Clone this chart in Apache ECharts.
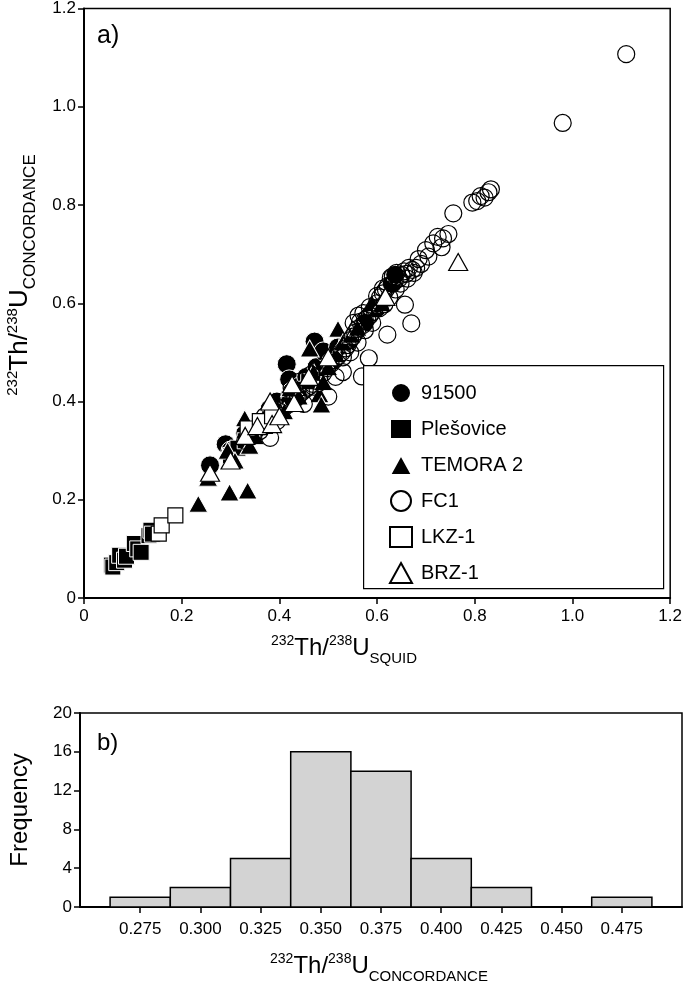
<!DOCTYPE html>
<html><head><meta charset="utf-8">
<script src="https://cdn.jsdelivr.net/npm/echarts@6/dist/echarts.min.js"></script>
<style>html,body{margin:0;padding:0;background:#fff}#c{width:685px;height:994px}</style>
</head><body><div id="c"></div>
<script>
// ---- Panel a) data: [Th/U SQUID, Th/U CONCORDANCE]
const s91500 = [[0.258,0.270],[0.290,0.313],[0.300,0.300],[0.330,0.335],[0.355,0.345],[0.380,0.385],[0.395,0.400],[0.415,0.476],[0.420,0.445],[0.425,0.420],[0.440,0.430],[0.455,0.450],[0.472,0.522],[0.476,0.470],[0.490,0.502],[0.505,0.480],[0.520,0.510],[0.540,0.520],[0.575,0.560],[0.600,0.590],[0.630,0.640],[0.637,0.658]];
const plesovice = [[0.056,0.067],[0.059,0.063],[0.067,0.072],[0.073,0.087],[0.083,0.077],[0.087,0.085],[0.103,0.111],[0.110,0.100],[0.117,0.093],[0.133,0.127],[0.137,0.138],[0.140,0.130],[0.300,0.290],[0.315,0.305],[0.330,0.320],[0.345,0.330],[0.360,0.350],[0.380,0.365],[0.400,0.380],[0.420,0.405],[0.440,0.425],[0.460,0.440]];
const temora2 = [[0.234,0.192],[0.298,0.215],[0.335,0.219],[0.254,0.245],[0.294,0.300],[0.309,0.280],[0.329,0.366],[0.339,0.310],[0.350,0.330],[0.370,0.350],[0.395,0.370],[0.410,0.380],[0.422,0.427],[0.440,0.410],[0.462,0.508],[0.470,0.460],[0.482,0.415],[0.486,0.394],[0.490,0.440],[0.500,0.470],[0.516,0.496],[0.520,0.548],[0.530,0.520],[0.547,0.536],[0.560,0.550],[0.590,0.600],[0.610,0.600]];
const fc1 = [[1.110,1.107],[0.980,0.967],[0.833,0.832],[0.828,0.826],[0.820,0.815],[0.812,0.818],[0.805,0.808],[0.795,0.805],[0.756,0.783],[0.746,0.741],[0.735,0.732],[0.724,0.735],[0.732,0.714],[0.715,0.722],[0.700,0.708],[0.685,0.690],[0.680,0.672],[0.672,0.668],[0.665,0.672],[0.660,0.660],[0.655,0.665],[0.650,0.658],[0.645,0.650],[0.640,0.662],[0.636,0.645],[0.632,0.640],[0.628,0.652],[0.622,0.635],[0.618,0.628],[0.612,0.620],[0.606,0.612],[0.600,0.600],[0.595,0.590],[0.590,0.582],[0.585,0.575],[0.580,0.570],[0.575,0.566],[0.570,0.555],[0.565,0.562],[0.560,0.548],[0.555,0.540],[0.550,0.532],[0.545,0.525],[0.540,0.515],[0.535,0.508],[0.528,0.500],[0.520,0.492],[0.512,0.484],[0.505,0.476],[0.498,0.468],[0.490,0.458],[0.482,0.450],[0.475,0.442],[0.468,0.436],[0.460,0.430],[0.452,0.424],[0.445,0.418],[0.438,0.410],[0.430,0.402],[0.420,0.395],[0.410,0.388],[0.400,0.380],[0.395,0.360],[0.381,0.326],[0.450,0.395],[0.657,0.597],[0.670,0.559],[0.621,0.536],[0.583,0.488],[0.569,0.451],[0.560,0.520],[0.530,0.490],[0.470,0.430],[0.390,0.380],[0.370,0.370],[0.360,0.340],[0.345,0.330],[0.330,0.320],[0.500,0.410],[0.530,0.460],[0.515,0.450],[0.545,0.500],[0.575,0.545],[0.590,0.560],[0.605,0.590],[0.615,0.598],[0.625,0.612],[0.638,0.628],[0.648,0.640],[0.662,0.650],[0.675,0.662],[0.585,0.592],[0.572,0.580],[0.562,0.575],[0.552,0.560],[0.600,0.615],[0.612,0.630],[0.632,0.655],[0.690,0.680],[0.705,0.695],[0.485,0.470],[0.465,0.455],[0.440,0.440],[0.425,0.428]];
const lkz1 = [[0.153,0.131],[0.159,0.148],[0.187,0.168],[0.335,0.345],[0.360,0.360],[0.385,0.370]];
const brz1 = [[0.258,0.255],[0.300,0.280],[0.330,0.330],[0.355,0.350],[0.381,0.400],[0.385,0.354],[0.400,0.370],[0.426,0.435],[0.430,0.397],[0.460,0.450],[0.500,0.490],[0.617,0.613],[0.766,0.684]];
const seriesNames = ['91500','Plešovice','TEMORA 2','FC1','LKZ-1','BRZ-1'];

// ---- Panel b) histogram data
const histCenters = [0.275,0.300,0.325,0.350,0.375,0.400,0.425,0.450,0.475];
const histCounts  = [1,2,5,16,14,5,2,0,1];
const histTicks   = [0.275,0.300,0.325,0.350,0.375,0.400,0.425,0.450,0.475];
const histBinWidth = 0.025;

const FONT = '"Liberation Sans", Arial, sans-serif';

function titleRich(size, sup, sub){
  return {
    base:{fontSize:size, fontFamily:FONT, fill:'#000', color:'#000', verticalAlign:'middle', lineHeight:size+4},
    sup:{fontSize:sup, fontFamily:FONT, fill:'#000', color:'#000', verticalAlign:'top', lineHeight:sup},
    sub:{fontSize:sub, fontFamily:FONT, fill:'#000', color:'#000', verticalAlign:'bottom', lineHeight:sub, padding:[0,0,-4,0]}
  };
}
const T_SQUID = '{sup|232}{base|Th/}{sup|238}{base|U}{sub|SQUID}';
const T_CONC = '{sup|232}{base|Th/}{sup|238}{base|U}{sub|CONCORDANCE}';

const filled = {color:'#000', borderColor:'#fff', borderWidth:1, opacity:1};
const open = {color:'#fff', borderColor:'#000', borderWidth:1.2, opacity:1};
const hollow = {color:'rgba(255,255,255,0)', borderColor:'#000', borderWidth:1.2, opacity:1};

const chart = echarts.init(document.getElementById('c'), null, {renderer:'canvas'});
chart.setOption({
  animation:false,
  backgroundColor:'#fff',
  grid:[
    {left:84, top:5, width:595, height:593, show:true, borderColor:'#000', borderWidth:1.5, backgroundColor:'transparent'},
    {left:77, top:713, width:605, height:194, show:true, borderColor:'#000', borderWidth:1.5, backgroundColor:'transparent'}
  ],
  xAxis:[
    {gridIndex:0, type:'value', min:0, max:1.2, interval:0.2,
     axisLine:{lineStyle:{color:'#000', width:2}}, axisTick:{inside:false, length:6, lineStyle:{color:'#000', width:1.5}},
     axisLabel:{color:'#000', fontSize:17, fontFamily:FONT, margin:10, formatter:v=>v===0?'0':v.toFixed(1)},
     splitLine:{show:false}},
    {gridIndex:1, type:'value', min:0.25, max:0.5, interval:0.025,
     axisLine:{lineStyle:{color:'#000', width:2}},
     axisTick:{inside:false, length:6, lineStyle:{color:'#000', width:1.5}, customValues:histTicks},
     axisLabel:{color:'#000', fontSize:17, fontFamily:FONT, margin:14, customValues:histTicks, formatter:v=>v.toFixed(3)},
     splitLine:{show:false}}
  ],
  yAxis:[
    {gridIndex:0, type:'value', min:0, max:1.2, interval:0.2,
     axisLine:{lineStyle:{color:'#000', width:2}}, axisTick:{inside:false, length:6, lineStyle:{color:'#000', width:1.5}},
     axisLabel:{color:'#000', fontSize:17, fontFamily:FONT, margin:8, formatter:v=>v===0?'0':v.toFixed(1)},
     splitLine:{show:false}},
    {gridIndex:1, type:'value', min:0, max:20, interval:4,
     axisLine:{lineStyle:{color:'#000', width:2}}, axisTick:{inside:false, length:6, lineStyle:{color:'#000', width:1.5}},
     axisLabel:{color:'#000', fontSize:17, fontFamily:FONT, margin:8},
     splitLine:{show:false},
     name:'Frequency', nameLocation:'middle', nameGap:48, nameRotate:90,
     nameTextStyle:{fontSize:24, fontFamily:FONT, color:'#000'}}
  ],
  legend:{
    orient:'vertical', left:384, top:377, itemWidth:22, itemHeight:20, itemGap:14, z:10,
    data:seriesNames,
    textStyle:{fontSize:20, lineHeight:20, fontFamily:FONT, color:'#000', padding:[0,0,0,4]}
  },
  graphic:[
    {type:'rect', left:363, top:365, z:3, shape:{width:300, height:223}, style:{fill:'#fff', stroke:'#000', lineWidth:1.2}},
    {type:'text', left:97, top:24, z:5, style:{text:'a)', fontSize:25, fontFamily:FONT, fill:'#000'}},
    {type:'text', left:97, top:731, z:5, style:{text:'b)', fontSize:24, fontFamily:FONT, fill:'#000'}},
    {type:'text', x:344, y:648, z:5, style:{text:T_SQUID, rich:titleRich(24,14,15), align:'center', verticalAlign:'middle'}},
    {type:'text', x:379, y:966, z:5, style:{text:T_CONC, rich:titleRich(24,14,15), align:'center', verticalAlign:'middle'}},
    {type:'text', x:20, y:275, rotation:Math.PI/2, z:5, style:{text:T_CONC, rich:titleRich(26,15,17), align:'center', verticalAlign:'middle'}}
  ],
  series:[
    {name:'91500', type:'scatter', xAxisIndex:0, yAxisIndex:0, symbol:'circle', symbolSize:19, itemStyle:filled, data:s91500},
    {name:'Plešovice', type:'scatter', xAxisIndex:0, yAxisIndex:0, symbol:'rect', symbolSize:16, itemStyle:filled, data:plesovice},
    {name:'TEMORA 2', type:'scatter', xAxisIndex:0, yAxisIndex:0, symbol:'triangle', symbolSize:[19,17], itemStyle:filled, data:temora2},
    {name:'FC1', type:'scatter', xAxisIndex:0, yAxisIndex:0, symbol:'circle', symbolSize:17, itemStyle:hollow, data:fc1},
    {name:'LKZ-1', type:'scatter', xAxisIndex:0, yAxisIndex:0, symbol:'rect', symbolSize:15, itemStyle:open, data:lkz1},
    {name:'BRZ-1', type:'scatter', xAxisIndex:0, yAxisIndex:0, symbol:'triangle', symbolSize:[19,17], itemStyle:open, data:brz1},
    {name:'hist', type:'custom', xAxisIndex:1, yAxisIndex:1,
     data:histCenters.map((c,i)=>[c,histCounts[i]]),
     renderItem:function(params, api){
       const c = api.value(0), n = api.value(1);
       if(!n) return null;
       const p0 = api.coord([c-histBinWidth/2, n]);
       const p1 = api.coord([c+histBinWidth/2, 0]);
       return {type:'rect', shape:{x:p0[0], y:p0[1], width:p1[0]-p0[0], height:p1[1]-p0[1]},
               style:{fill:'#d3d3d3', stroke:'#000', lineWidth:1.5}};
     }}
  ]
});
</script></body></html>
